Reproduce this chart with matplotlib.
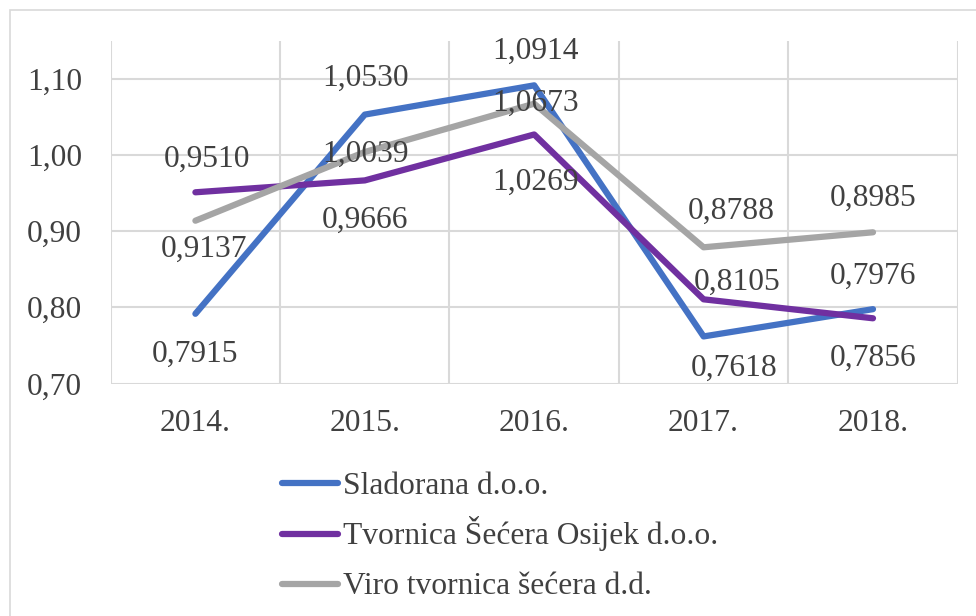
import matplotlib
matplotlib.use("Agg")
import matplotlib.pyplot as plt
from matplotlib.patches import Rectangle
from matplotlib.lines import Line2D

years = ["2014.", "2015.", "2016.", "2017.", "2018."]
sladorana = [0.7915, 1.0530, 1.0914, 0.7618, 0.7976]
tvornica = [0.9510, 0.9666, 1.0269, 0.8105, 0.7856]
viro = [0.9137, 1.0039, 1.0673, 0.8788, 0.8985]
names = ["Sladorana d.o.o.", "Tvornica Šećera Osijek d.o.o.", "Viro tvornica šećera d.d."]
yticks = [0.70, 0.80, 0.90, 1.00, 1.10]

colors = ["#4472C4", "#7030A0", "#A5A5A5"]
# label offsets in pixels (dx, dy), dy positive = up
offsets = [
    [(0, -41), (1, 36), (1, 34), (31, -32), (0, 33)],
    [(12, 33), (0, -40), (1, -48), (34, 17), (0, -40)],
    [(9, -29), (1, -2), (1, 0), (28, 36), (0, 34)],
]

plt.rcParams['font.family'] = ['Liberation Serif', 'DejaVu Serif']
txt = "#404040"
fs = 22.7
W, H = 976, 616

fig = plt.figure(figsize=(9.76, 6.16), dpi=100)
fig.patches.append(Rectangle((10 / W, -0.1), 1.1, 1 - 9.5 / H + 0.1,
                             transform=fig.transFigure, fill=False,
                             edgecolor="#D9D9D9", linewidth=1.2))
ax = fig.add_axes([110.7 / W, 1 - 383.5 / H, (957.7 - 110.7) / W, (383.5 - 40.7) / H])

x = list(range(len(years)))
series = [sladorana, tvornica, viro]
for vals, name, c in zip(series, names, colors):
    ax.plot(x, vals, color=c, lw=4.5, solid_capstyle="round", solid_joinstyle="round",
            label=name, zorder=3)
for vals, offs in zip(series, offsets):
    for xi, v, (dx, dy) in zip(x, vals, offs):
        ax.annotate(f"{v:.4f}".replace(".", ","), (xi, v), xytext=(dx, dy),
                    textcoords="offset pixels", ha="center", va="center",
                    fontsize=fs, color=txt, zorder=5)

ax.set_xlim(-0.5, 4.5)
ax.set_ylim(0.70, 1.15)
ax.set_yticks(yticks)
ax.set_yticklabels([f"{t:.2f}".replace(".", ",") for t in yticks])
ax.set_xticks(x)
ax.set_xticklabels(years)
for t in yticks:
    ax.axhline(t, color="#D9D9D9", lw=1.5, zorder=1)
for b in [i - 0.5 for i in range(len(years) + 1)]:
    ax.axvline(b, color="#D9D9D9", lw=1.5, zorder=1)
for s in ax.spines.values():
    s.set_visible(False)
ax.tick_params(axis="both", length=0, labelsize=fs, colors=txt)
ax.tick_params(axis="y", pad=20.5)
ax.tick_params(axis="x", pad=18.5)

# legend drawn row by row
rows_y = [483, 533.5, 584]
for name, c, yy in zip(names, colors, rows_y):
    fig.add_artist(Line2D([282 / W, 338 / W], [1 - yy / H, 1 - yy / H],
                          transform=fig.transFigure, color=c, lw=4.5,
                          solid_capstyle="round"))
    fig.text(343 / W, 1 - (yy + 10.5) / H, name, fontsize=fs, color=txt,
             ha="left", va="baseline")

fig.savefig("out.png", dpi=100)
